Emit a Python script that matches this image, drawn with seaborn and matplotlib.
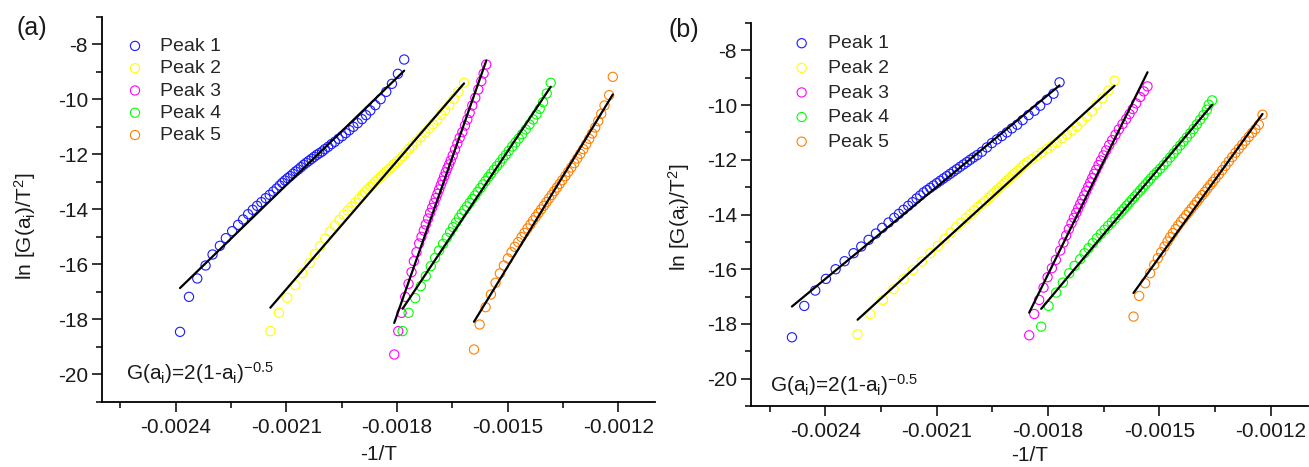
import numpy as np
import matplotlib
matplotlib.use("Agg")
import matplotlib.pyplot as plt
import seaborn as sns
from matplotlib.ticker import FixedLocator, FormatStrFormatter

# ---------------- data (x values in units of 1e-4) ----------------
series_labels = ["Peak 1", "Peak 2", "Peak 3", "Peak 4", "Peak 5"]
series_colors = ["#1a1aff", "#ffff00", "#ff00ff", "#00ff00", "#ff8000"]
x_ticks = [-0.0024, -0.0021, -0.0018, -0.0015, -0.0012]
y_ticks = [-8, -10, -12, -14, -16, -18, -20]

# panel (a)
a1_x = [-23.883,-23.640,-23.415,-23.190,-23.001,-22.802,-22.640,-22.469,-22.307,-22.172,
        -22.037,-21.911,-21.793,-21.676,-21.559,-21.451,-21.352,-21.262,-21.181,-21.109,
        -21.037,-20.965,-20.893,-20.820,-20.748,-20.676,-20.604,-20.532,-20.460,-20.388,
        -20.316,-20.244,-20.172,-20.100,-20.028,-19.956,-19.866,-19.775,-19.685,-19.586,
        -19.487,-19.388,-19.289,-19.181,-19.064,-18.947,-18.838,-18.721,-18.586,-18.442,
        -18.289,-18.136,-17.974,-17.803]
a1_y = [-18.449,-17.176,-16.509,-16.037,-15.637,-15.321,-15.043,-14.788,-14.558,-14.364,
        -14.170,-14.012,-13.867,-13.733,-13.588,-13.467,-13.346,-13.237,-13.127,-13.030,
        -12.946,-12.861,-12.788,-12.703,-12.618,-12.546,-12.461,-12.376,-12.303,-12.230,
        -12.158,-12.085,-12.012,-11.952,-11.891,-11.806,-11.721,-11.624,-11.540,-11.430,
        -11.334,-11.224,-11.115,-10.994,-10.861,-10.715,-10.570,-10.400,-10.206,-9.988,
        -9.721,-9.430,-9.067,-8.546]
a2_x = [-21.433,-21.199,-20.974,-20.757,-20.568,-20.370,-20.226,-20.082,-19.946,-19.811,
        -19.685,-19.559,-19.442,-19.334,-19.226,-19.127,-19.028,-18.938,-18.866,-18.794,
        -18.721,-18.649,-18.577,-18.505,-18.433,-18.361,-18.289,-18.217,-18.145,-18.073,
        -18.001,-17.929,-17.848,-17.757,-17.667,-17.577,-17.469,-17.352,-17.235,-17.127,
        -17.019,-16.910,-16.802,-16.694,-16.577,-16.460,-16.334,-16.181]
a2_y = [-18.424,-17.758,-17.212,-16.752,-16.315,-15.952,-15.624,-15.333,-15.055,-14.800,
        -14.582,-14.376,-14.194,-14.036,-13.891,-13.745,-13.612,-13.479,-13.370,-13.273,
        -13.176,-13.079,-12.982,-12.897,-12.800,-12.715,-12.618,-12.533,-12.449,-12.352,
        -12.267,-12.182,-12.061,-11.927,-11.794,-11.673,-11.527,-11.370,-11.212,-11.055,
        -10.897,-10.740,-10.558,-10.388,-10.194,-9.976,-9.721,-9.394]
a3_x = [-18.073,-17.964,-17.874,-17.775,-17.685,-17.604,-17.541,-17.469,-17.397,-17.334,
        -17.271,-17.217,-17.154,-17.100,-17.046,-16.992,-16.946,-16.901,-16.856,-16.811,
        -16.766,-16.721,-16.676,-16.631,-16.586,-16.541,-16.487,-16.424,-16.361,-16.298,
        -16.226,-16.154,-16.091,-16.028,-15.956,-15.874,-15.793,-15.712,-15.649,-15.577]
a3_y = [-19.273,-18.424,-17.758,-17.176,-16.703,-16.279,-15.879,-15.552,-15.236,-14.994,
        -14.764,-14.546,-14.327,-14.121,-13.940,-13.758,-13.588,-13.430,-13.273,-13.115,
        -12.958,-12.800,-12.643,-12.497,-12.364,-12.218,-12.036,-11.818,-11.600,-11.394,
        -11.188,-10.946,-10.727,-10.485,-10.218,-9.940,-9.637,-9.333,-9.055,-8.727]
a4_x = [-17.847,-17.685,-17.505,-17.352,-17.217,-17.082,-16.965,-16.856,-16.748,-16.649,
        -16.559,-16.478,-16.397,-16.316,-16.244,-16.172,-16.100,-16.028,-15.956,-15.884,
        -15.811,-15.739,-15.667,-15.595,-15.523,-15.451,-15.370,-15.289,-15.208,-15.127,
        -15.046,-14.964,-14.874,-14.784,-14.694,-14.604,-14.505,-14.406,-14.307,-14.217,
        -14.127,-14.037,-13.937,-13.829]
a4_y = [-18.424,-17.758,-17.224,-16.788,-16.424,-16.061,-15.758,-15.491,-15.249,-15.030,
        -14.824,-14.643,-14.473,-14.303,-14.158,-14.024,-13.891,-13.758,-13.624,-13.491,
        -13.358,-13.224,-13.091,-12.958,-12.824,-12.703,-12.558,-12.424,-12.291,-12.146,
        -12.012,-11.867,-11.709,-11.564,-11.418,-11.261,-11.091,-10.909,-10.727,-10.546,
        -10.340,-10.097,-9.782,-9.394]
a5_x = [-15.910,-15.757,-15.595,-15.451,-15.325,-15.208,-15.100,-14.992,-14.892,-14.802,
        -14.712,-14.622,-14.541,-14.460,-14.379,-14.307,-14.235,-14.163,-14.091,-14.018,
        -13.946,-13.874,-13.802,-13.730,-13.658,-13.586,-13.514,-13.433,-13.352,-13.271,
        -13.190,-13.109,-13.027,-12.946,-12.865,-12.784,-12.703,-12.622,-12.541,-12.460,
        -12.370,-12.244,-12.145]
a5_y = [-19.091,-18.182,-17.552,-17.091,-16.667,-16.327,-16.036,-15.782,-15.552,-15.358,
        -15.188,-15.006,-14.848,-14.691,-14.545,-14.400,-14.267,-14.133,-14.000,-13.867,
        -13.733,-13.600,-13.467,-13.333,-13.200,-13.067,-12.933,-12.788,-12.630,-12.473,
        -12.315,-12.145,-11.976,-11.806,-11.624,-11.430,-11.236,-11.018,-10.788,-10.521,
        -10.218,-9.843,-9.176]

# panel (b)
b1_x = [-24.897,-24.565,-24.269,-23.982,-23.721,-23.479,-23.237,-23.030,-22.833,-22.635,
        -22.465,-22.294,-22.142,-22.016,-21.891,-21.765,-21.648,-21.540,-21.442,-21.352,
        -21.262,-21.173,-21.083,-20.993,-20.903,-20.814,-20.724,-20.634,-20.544,-20.455,
        -20.365,-20.275,-20.185,-20.096,-20.006,-19.907,-19.782,-19.647,-19.512,-19.378,
        -19.243,-19.108,-18.974,-18.830,-18.686,-18.525,-18.363,-18.211,-18.031,-17.852,
        -17.690]
b1_y = [-18.488,-17.341,-16.780,-16.353,-16.000,-15.707,-15.414,-15.170,-14.926,-14.695,
        -14.487,-14.292,-14.121,-13.975,-13.829,-13.682,-13.548,-13.414,-13.304,-13.194,
        -13.109,-13.024,-12.938,-12.853,-12.767,-12.682,-12.597,-12.511,-12.426,-12.341,
        -12.255,-12.170,-12.084,-11.999,-11.914,-11.828,-11.706,-11.548,-11.389,-11.255,
        -11.133,-10.999,-10.853,-10.718,-10.548,-10.365,-10.206,-10.023,-9.804,-9.584,
        -9.169]
b2_x = [-23.129,-22.788,-22.447,-22.160,-21.891,-21.639,-21.397,-21.173,-20.966,-20.787,
        -20.616,-20.472,-20.338,-20.212,-20.096,-19.988,-19.889,-19.790,-19.692,-19.602,
        -19.530,-19.458,-19.387,-19.315,-19.243,-19.171,-19.099,-19.028,-18.956,-18.884,
        -18.812,-18.740,-18.660,-18.570,-18.435,-18.301,-18.166,-18.031,-17.897,-17.762,
        -17.627,-17.493,-17.358,-17.224,-17.089,-16.954,-16.820,-16.685,-16.533,-16.371,
        -16.209]
b2_y = [-18.378,-17.634,-17.122,-16.732,-16.366,-16.024,-15.719,-15.414,-15.146,-14.902,
        -14.658,-14.463,-14.292,-14.134,-13.987,-13.853,-13.731,-13.621,-13.512,-13.402,
        -13.304,-13.219,-13.121,-13.036,-12.938,-12.853,-12.755,-12.670,-12.572,-12.487,
        -12.389,-12.304,-12.194,-12.097,-11.975,-11.853,-11.731,-11.609,-11.487,-11.365,
        -11.218,-11.072,-10.926,-10.779,-10.596,-10.413,-10.231,-9.987,-9.755,-9.462,
        -9.108]
b3_x = [-18.507,-18.372,-18.238,-18.121,-18.013,-17.897,-17.789,-17.672,-17.583,-17.511,
        -17.439,-17.367,-17.304,-17.241,-17.188,-17.134,-17.080,-17.026,-16.972,-16.918,
        -16.865,-16.811,-16.757,-16.703,-16.640,-16.577,-16.506,-16.434,-16.353,-16.272,
        -16.182,-16.093,-15.994,-15.895,-15.806,-15.716,-15.626,-15.518,-15.420,-15.321]
b3_y = [-18.415,-17.635,-17.122,-16.671,-16.292,-15.963,-15.658,-15.317,-15.024,-14.768,
        -14.536,-14.317,-14.121,-13.939,-13.780,-13.621,-13.463,-13.304,-13.146,-12.987,
        -12.829,-12.670,-12.512,-12.365,-12.194,-12.024,-11.840,-11.658,-11.462,-11.280,
        -11.084,-10.889,-10.694,-10.511,-10.328,-10.145,-9.938,-9.706,-9.499,-9.316]
b4_x = [-18.184,-17.986,-17.780,-17.600,-17.430,-17.286,-17.134,-17.017,-16.909,-16.793,
        -16.685,-16.577,-16.479,-16.380,-16.281,-16.191,-16.102,-16.021,-15.949,-15.877,
        -15.806,-15.734,-15.662,-15.590,-15.518,-15.447,-15.375,-15.303,-15.231,-15.150,
        -15.070,-14.980,-14.890,-14.800,-14.711,-14.621,-14.531,-14.441,-14.352,-14.262,
        -14.172,-14.082,-13.993,-13.903,-13.813,-13.723,-13.670,-13.580]
b4_y = [-18.098,-17.341,-16.854,-16.488,-16.146,-15.878,-15.634,-15.414,-15.231,-15.048,
        -14.865,-14.707,-14.560,-14.414,-14.280,-14.146,-14.012,-13.890,-13.780,-13.670,
        -13.560,-13.451,-13.341,-13.231,-13.121,-13.011,-12.902,-12.792,-12.682,-12.560,
        -12.450,-12.328,-12.194,-12.060,-11.914,-11.767,-11.621,-11.475,-11.328,-11.182,
        -11.035,-10.877,-10.706,-10.535,-10.365,-10.170,-9.987,-9.828]
b5_x = [-15.698,-15.545,-15.384,-15.249,-15.141,-15.043,-14.953,-14.863,-14.782,-14.711,
        -14.639,-14.567,-14.495,-14.423,-14.352,-14.280,-14.208,-14.136,-14.064,-13.993,
        -13.921,-13.849,-13.777,-13.705,-13.634,-13.562,-13.490,-13.400,-13.310,-13.221,
        -13.131,-13.041,-12.951,-12.862,-12.772,-12.682,-12.592,-12.503,-12.413,-12.323,
        -12.224]
b5_y = [-17.732,-16.976,-16.512,-16.146,-15.841,-15.597,-15.378,-15.170,-14.987,-14.829,
        -14.682,-14.536,-14.402,-14.268,-14.146,-14.024,-13.902,-13.780,-13.658,-13.536,
        -13.414,-13.292,-13.170,-13.048,-12.926,-12.804,-12.682,-12.536,-12.377,-12.219,
        -12.060,-11.902,-11.743,-11.597,-11.450,-11.304,-11.158,-11.011,-10.877,-10.718,
        -10.353]

# ---------------- style ----------------
sns.set_theme(style="ticks")
plt.rcParams.update({
    "font.family": ["Liberation Sans", "DejaVu Sans"],
    "mathtext.fontset": "custom",
    "mathtext.rm": "Liberation Sans",
    "mathtext.it": "Liberation Sans:italic",
    "mathtext.bf": "Liberation Sans:bold",
    "axes.unicode_minus": False,
    "font.size": 14,
})

TXT = "#1a1a1a"
fig = plt.figure(figsize=(13.09, 4.67), dpi=100)
axA = fig.add_axes([0.0779, 0.1392, 0.4225, 0.8244])
axB = fig.add_axes([0.5737, 0.1306, 0.4255, 0.8201])


def draw_panel(ax, xs, ys, leg_anchor, leg_spacing, leg_pad, ylab_xy, xlabpad):
    for x, y, lab, c in zip(xs, ys, series_labels, series_colors):
        sns.scatterplot(x=np.asarray(x) * 1e-4, y=y, ax=ax, color=c,
                        facecolor="none", edgecolor=c, s=44, linewidth=0.8,
                        marker="o", label=lab, zorder=2)
    for x, y in zip(xs, ys):
        sns.regplot(x=np.asarray(x) * 1e-4, y=np.asarray(y), ax=ax, scatter=False,
                    ci=None, truncate=True, color="black",
                    line_kws={"lw": 1.6, "zorder": 3})
    ax.set_xlim(-0.0026, -0.0011)
    ax.set_ylim(-21, -7)
    ax.xaxis.set_major_locator(FixedLocator(x_ticks))
    ax.xaxis.set_minor_locator(FixedLocator([t - 0.00015 for t in x_ticks]))
    ax.xaxis.set_major_formatter(FormatStrFormatter("%.4f"))
    ax.yaxis.set_major_locator(FixedLocator(y_ticks))
    ax.yaxis.set_minor_locator(FixedLocator([t + 1 for t in y_ticks] + [-21]))
    ax.tick_params(which="major", direction="out", length=7, width=1.1,
                   labelsize=15, color="black", labelcolor=TXT)
    ax.tick_params(which="minor", direction="out", length=4, width=1.1, color="black")
    ax.tick_params(axis="x", which="major", pad=4.5)
    ax.tick_params(axis="y", which="major", pad=3)
    for side in ["top", "right"]:
        ax.spines[side].set_visible(False)
    for side in ["left", "bottom"]:
        ax.spines[side].set_linewidth(1.3)
        ax.spines[side].set_color("black")
    ax.set_xlabel("-1/T", fontsize=15, labelpad=xlabpad, color=TXT)
    ax.set_ylabel(r"ln [G(a$_{\rm i}$)/T$^{\rm 2}$]", fontsize=15, color=TXT)
    ax.yaxis.set_label_coords(*ylab_xy)
    ax.legend(loc="upper left", bbox_to_anchor=leg_anchor, frameon=False,
              fontsize=14, handlelength=0.7, handletextpad=leg_pad,
              borderpad=0, borderaxespad=0, labelspacing=leg_spacing,
              markerscale=1.0)


draw_panel(axA, [a1_x, a2_x, a3_x, a4_x, a5_x], [a1_y, a2_y, a3_y, a4_y, a5_y],
           (0.0474, 0.947), 0.24, 0.94, (-0.115, 0.457), 6)
draw_panel(axB, [b1_x, b2_x, b3_x, b4_x, b5_x], [b1_y, b2_y, b3_y, b4_y, b5_y],
           (0.0788, 0.9695), 0.36, 0.99, (-0.106, 0.492), 3.5)

eq = r"G(a$_{\rm i}$)=2(1-a$_{\rm i}$)$^{-0.5}$"
axA.text(0.043, 0.075, eq, transform=axA.transAxes, fontsize=15,
         va="center", ha="left", color=TXT)
axB.text(0.034, 0.055, eq, transform=axB.transAxes, fontsize=15,
         va="center", ha="left", color=TXT)

fig.text(16 / 1309, 1 - 28 / 467, "(a)", fontsize=18, va="center", ha="left", color=TXT)
fig.text(668 / 1309, 1 - 30 / 467, "(b)", fontsize=18, va="center", ha="left", color=TXT)

fig.savefig("out.png", dpi=100)
